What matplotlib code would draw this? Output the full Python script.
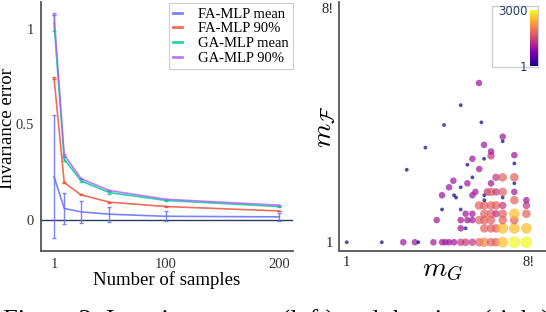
import numpy as np
import matplotlib
matplotlib.use("Agg")
import matplotlib.pyplot as plt
from matplotlib.colors import LogNorm
from matplotlib.lines import Line2D
from matplotlib.patches import Rectangle

plt.rcParams["font.family"] = ["Liberation Serif", "DejaVu Serif"]
plt.rcParams["mathtext.fontset"] = "cm"

# left panel: invariance error vs number of samples
n_samples = [1, 10, 25, 50, 100, 200]
fa_mean = [0.225, 0.058, 0.040, 0.028, 0.017, 0.014]
fa_mean_err = [0.32, 0.083, 0.056, 0.040, 0.027, 0.022]
fa_90 = [0.742, 0.194, 0.129, 0.091, 0.068, 0.045]
fa_90_err = [0.006, 0.004, 0.003, 0.002, 0.002, 0.002]
ga_mean = [1.03, 0.316, 0.202, 0.141, 0.100, 0.068]
ga_mean_err = [0.04, 0.012, 0.008, 0.006, 0.004, 0.004]
ga_90 = [1.075, 0.339, 0.213, 0.152, 0.106, 0.075]
ga_90_err = [0.006, 0.004, 0.003, 0.002, 0.002, 0.002]

series_names = ["FA-MLP mean", "FA-MLP 90%", "GA-MLP mean", "GA-MLP 90%"]
series_colors = ["#636efa", "#ef553b", "#00cc96", "#ab63fa"]

# right panel: m_G vs m_F, colour = count
m_g = [1, 7.7, 27, 53, 65, 156, 258, 313, 388, 519, 765, 1020, 1510, 2250, 3030, 4480, 5990, 8830, 17400, 35100,
       765, 1020, 3030, 4480, 5990, 8830, 17400, 35100,
       189, 765, 1130, 1510, 2250, 3030, 4480, 8830, 17400,
       1020, 1510, 3030, 4480, 5990, 8830, 17400, 35100,
       258, 765,
       2220, 3030, 4480, 5990, 8830, 35100,
       17400, 35100, 3030,
       583, 8830,
       258, 519, 1510, 3030,
       1800, 3610, 4480, 5990, 8830, 17400,
       388, 765,
       1130, 4480, 17400,
       499,
       1510, 5990, 8830, 17400,
       33, 2250, 1130, 17400, 1510, 2980, 4480, 17400, 4480,
       97.7, 2980, 8830, 8830, 290, 2550, 765, 2220]
m_f = [1] * 20 + \
      [1.88] * 8 + \
      [2.73] * 9 + \
      [3.64] * 8 + \
      [4.42] * 2 + \
      [5.30] * 6 + \
      [6.74, 6.74, 6.74] + \
      [7.60] * 2 + \
      [8.44] * 4 + \
      [9.81] * 6 + \
      [12.1] * 2 + \
      [14.5] * 3 + \
      [16.3] + \
      [19.0] * 4 + \
      [26.8, 27.7, 33.6, 35.7, 44.1, 44.1, 50.4, 52.0, 61.3,
       73.4, 82.8, 97.6, 120, 204, 230, 502, 1370]
counts = [1, 1, 16, 16, 1, 16, 16, 16, 16, 16, 40, 40, 40, 120, 300, 120, 120, 1000, 3000, 3000,
          16, 1, 120, 120, 120, 1000, 1000, 1000,
          16, 16, 16, 16, 120, 120, 120, 120, 120,
          16, 16, 120, 120, 40, 120, 1000, 120,
          1, 1,
          120, 120, 120, 120, 40, 40,
          120, 16, 1,
          1, 1,
          16, 1, 16, 1,
          16, 40, 120, 40, 120, 16,
          16, 1,
          16, 16, 1,
          16,
          1, 40, 120, 120,
          1, 16, 1, 1, 16, 1, 40, 16, 16,
          1, 16, 1, 16, 1, 1, 1, 16]

fig = plt.figure(figsize=(5.46, 3.12), dpi=100)

ax = fig.add_axes([0.0745, 0.196, 0.4625, 0.798])
ys = [fa_mean, fa_90, ga_mean, ga_90]
errs = [fa_mean_err, fa_90_err, ga_mean_err, ga_90_err]
ax.axhline(0, color="#2a3f5f", lw=1.0, zorder=1)
for name, col, y, e in zip(series_names, series_colors, ys, errs):
    ax.errorbar(n_samples, y, yerr=e, color=col, lw=1.2, elinewidth=1.0,
                capsize=1.5, alpha=0.85, zorder=3)
ax.set_xlim(-10.8, 212.4)
ax.set_ylim(-0.164, 1.14)
ax.set_xticks([1, 100, 200])
ax.set_yticks([0, 0.5, 1])
ax.set_yticklabels(["0", "0.5", "1"])
ax.tick_params(length=0, labelsize=10.5, colors="#333333", pad=5)
for s in ["top", "right"]:
    ax.spines[s].set_visible(False)
for s in ["left", "bottom"]:
    ax.spines[s].set_color("#555555")
    ax.spines[s].set_linewidth(1.3)
ax.set_xlabel("Number of samples", fontsize=13.5, labelpad=0)
ax.set_ylabel("Invariance error", fontsize=13.5)
ax.yaxis.set_label_coords(-0.098, 0.49)
handles = [Line2D([], [], color=c, lw=2, alpha=0.85) for c in series_colors]
leg = ax.legend(handles, series_names, loc="upper right", bbox_to_anchor=(1.0, 0.995),
                fontsize=10.5, handlelength=0.6, handletextpad=1.1, borderpad=0.3,
                labelspacing=0.1, fancybox=False, framealpha=1, borderaxespad=0)
leg.get_frame().set_edgecolor("#cccccc")
leg.get_frame().set_linewidth(0.8)

# right panel
ax2 = fig.add_axes([0.621, 0.196, 0.379, 0.798])
norm = LogNorm(vmin=1, vmax=3000)
sizes = [(0.72 * (3.8 + 2.3 * np.log10(c))) ** 2 for c in counts]
sc = ax2.scatter(m_g, m_f, c=counts, s=sizes, cmap="plasma", norm=norm,
                 alpha=0.72, edgecolors="none", zorder=3)
ax2.set_xscale("log")
ax2.set_yscale("log")
ax2.set_xlim(0.64, 110000)
ax2.set_ylim(0.677, 54400)
ax2.set_xticks([1, 40320])
ax2.set_xticklabels(["1", "8!"])
ax2.set_yticks([1, 40320])
ax2.set_yticklabels(["1", "8!"])
ax2.minorticks_off()
ax2.tick_params(length=0, labelsize=10.5, colors="#222222", pad=4)
for s in ["top", "right"]:
    ax2.spines[s].set_visible(False)
for s in ["left", "bottom"]:
    ax2.spines[s].set_color("#555555")
    ax2.spines[s].set_linewidth(1.3)
ax2.set_xlabel(r"$m_G$", fontsize=20, labelpad=-8)
ax2.set_ylabel(r"$m_\mathcal{F}$", fontsize=20, labelpad=-12)

# colorbar inset with frame
fig.patches.append(Rectangle((0.9005, 0.785), 0.0857, 0.1955, transform=fig.transFigure,
                             facecolor="white", edgecolor="#c8ccd4", lw=1.0, zorder=5))
cax = fig.add_axes([0.9707, 0.788, 0.0147, 0.179], zorder=6)
cb = fig.colorbar(sc, cax=cax, ticks=[1, 3000])
cb.solids.set_alpha(1)
cb.outline.set_visible(False)
cax.yaxis.set_ticks_position("left")
cax.set_yticklabels(["1", "3000"])
cax.minorticks_off()
cax.tick_params(length=0, pad=2, labelsize=8.5, colors="#2a3f5f")
for t in cax.get_yticklabels():
    t.set_family("DejaVu Sans")

fig.text(0.005, -0.05, "Figure 2: Invariance error (left) and the sizes (right)",
         fontsize=19, va="baseline", ha="left")

fig.savefig("out.png", dpi=100)
